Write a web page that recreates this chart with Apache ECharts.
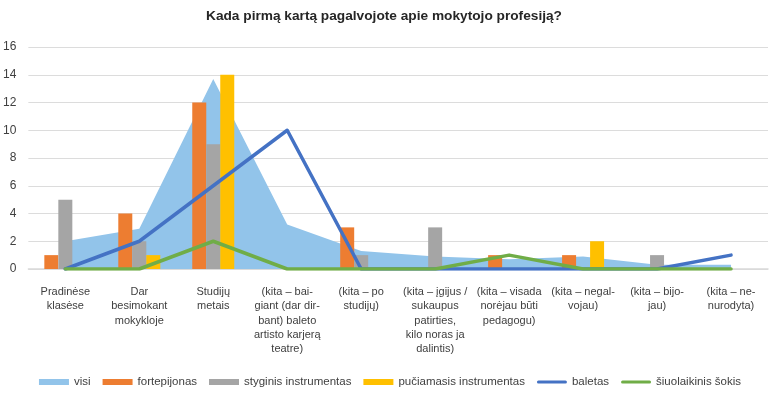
<!DOCTYPE html>
<html>
<head>
<meta charset="utf-8">
<script src="https://cdn.jsdelivr.net/npm/echarts@6/dist/echarts.min.js"></script>
<style>
  html, body { margin: 0; padding: 0; background: #fff; }
  #chart { width: 780px; height: 399px; }
</style>
</head>
<body>
<div id="chart"></div>
<script>
// kategorijos (su eilučių laužymu kaip originale)
const categories = [
    'Pradinėse\nklasėse',
    'Dar\nbesimokant\nmokykloje',
    'Studijų\nmetais',
    '(kita – bai-\ngiant (dar dir-\nbant) baleto\nartisto karjerą\nteatre)',
    '(kita – po\nstudijų)',
    '(kita – įgijus /\nsukaupus\npatirties,\nkilo noras ja\ndalintis)',
    '(kita – visada\nnorėjau būti\npedagogu)',
    '(kita – negal-\nvojau)',
    '(kita – bijo-\njau)',
    '(kita – ne-\nnurodyta)'
];

const visi = [2, 2.9, 13.7, 3.2, 1.3, 0.9, 0.7, 0.9, 0.3, 0.3];
const fortepijonas = [1, 4, 12, 0, 3, 0, 1, 1, 0, 0];
const styginis = [5, 2, 9, 0, 1, 3, 0, 0, 1, 0];
const puciamasis = [0, 1, 14, 0, 0, 0, 0, 2, 0, 0];
const baletas = [0, 2, 6, 10, 0, 0, 0, 0, 0, 1];
const siuolaikinis = [0, 0, 2, 0, 0, 0, 1, 0, 0, 0];

const textColor = '#404040';
const font = 'Liberation Sans';

const chart = echarts.init(document.getElementById('chart'));

// stulpelių bendras stilius
const barSeries = function (name, data, color) {
    return {
        name: name,
        type: 'bar',
        data: data,
        z: 3,
        barWidth: 14,
        barGap: 0,
        itemStyle: { color: color }
    };
};

const lineSeries = function (name, data, color) {
    return {
        name: name,
        type: 'line',
        data: data,
        z: 4,
        symbol: 'none',
        lineStyle: { color: color, width: 3.5, cap: 'round', join: 'round' },
        itemStyle: { color: color }
    };
};

// plona linija legendai
const lineIcon = 'path://M1.5,0H28.5A1.5,1.5,0,0,1,28.5,3H1.5A1.5,1.5,0,0,1,1.5,0Z';

const option = {
    backgroundColor: '#fff',
    animation: false,
    textStyle: { fontFamily: font },
    title: {
        text: 'Kada pirmą kartą pagalvojote apie mokytojo profesiją?',
        left: 201,
        top: 4,
        textStyle: { fontSize: 13.7, fontWeight: 'bold', color: '#262626', fontFamily: font }
    },
    legend: {
        bottom: 6,
        left: 'center',
        width: 770,
        itemWidth: 30,
        itemHeight: 6,
        itemGap: 12,
        textStyle: { color: textColor, fontSize: 11.5, fontFamily: font },
        data: [
            { name: 'visi', icon: 'rect' },
            { name: 'fortepijonas', icon: 'rect' },
            { name: 'styginis instrumentas', icon: 'rect' },
            { name: 'pučiamasis instrumentas', icon: 'rect' },
            { name: 'baletas', icon: lineIcon, itemStyle: { color: '#4472C4' } },
            { name: 'šiuolaikinis šokis', icon: lineIcon, itemStyle: { color: '#70AD47' } }
        ]
    },
    grid: {
        left: 28,
        right: 12,
        top: 47,
        bottom: 130
    },
    xAxis: {
        type: 'category',
        data: categories,
        axisTick: { show: false },
        axisLine: { lineStyle: { color: '#D9D9D9', width: 1.5 } },
        axisLabel: {
            interval: 0,
            color: textColor,
            fontSize: 11,
            lineHeight: 14.3,
            margin: 16,
            align: 'center'
        }
    },
    yAxis: {
        type: 'value',
        min: 0,
        max: 16,
        interval: 2,
        axisLine: { show: false },
        axisTick: { show: false },
        axisLabel: { color: textColor, fontSize: 12, margin: 12 },
        splitLine: { lineStyle: { color: '#DCDCDC', width: 1.2 } }
    },
    series: [
        {
            name: 'visi',
            type: 'line',
            data: visi,
            z: 1,
            symbol: 'none',
            lineStyle: { width: 0 },
            itemStyle: { color: '#92C4EA' },
            areaStyle: { color: '#92C4EA', opacity: 1 }
        },
        barSeries('fortepijonas', fortepijonas, '#ED7D31'),
        barSeries('styginis instrumentas', styginis, '#A5A5A5'),
        barSeries('pučiamasis instrumentas', puciamasis, '#FFC000'),
        lineSeries('baletas', baletas, '#4472C4'),
        lineSeries('šiuolaikinis šokis', siuolaikinis, '#70AD47')
    ]
};

chart.setOption(option);

window.onresize = function () {
    chart.resize();
};
</script>
</body>
</html>
